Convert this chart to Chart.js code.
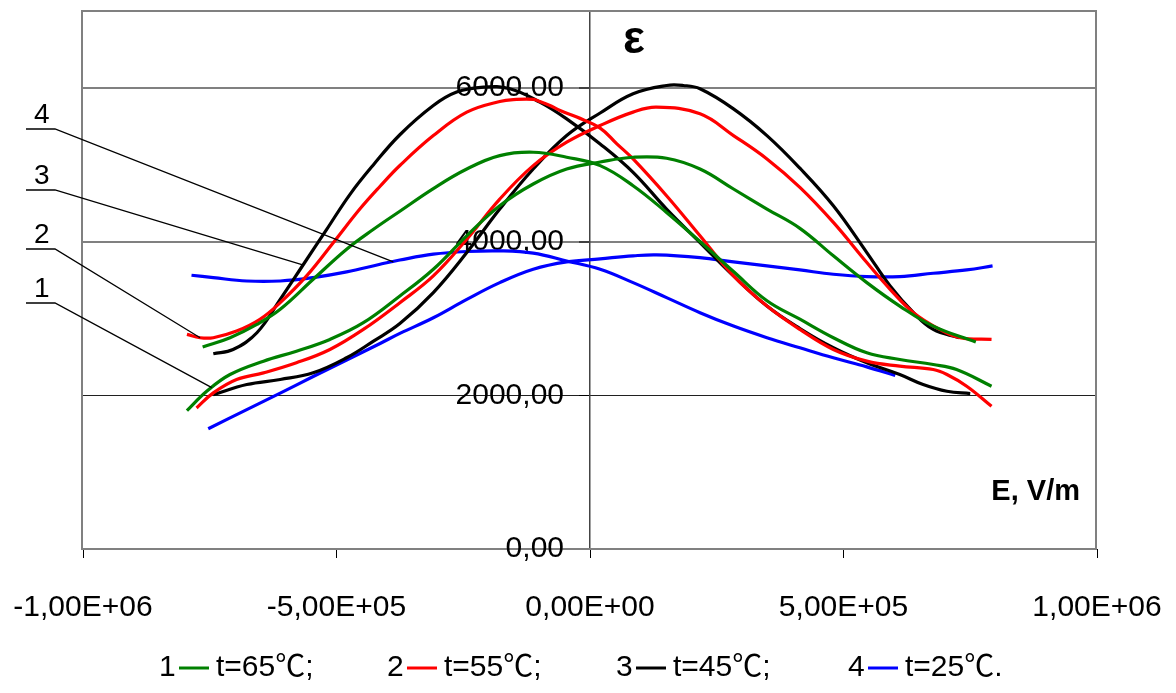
<!DOCTYPE html>
<html><head><meta charset="utf-8">
<script src="https://cdn.jsdelivr.net/npm/chart.js@4.4.0/dist/chart.umd.min.js"></script>
<style>html,body{margin:0;padding:0;background:#fff;}canvas{display:block;}</style>
</head><body>
<canvas id="c" width="1176" height="693"></canvas>
<script>
// ---------- DATA ----------
const xTicks = [-1e6, -5e5, 0, 5e5, 1e6];
const xTickLabels = ['-1,00E+06', '-5,00E+05', '0,00E+00', '5,00E+05', '1,00E+06'];
const yTicks = [0, 2000, 4000, 6000];
const yTickLabels = ['0,00', '2000,00', '4000,00', '6000,00'];

const seriesNums = ['1', '2', '3', '4'];
const seriesLabels = ['t=65\u2103;', 't=55\u2103;', 't=45\u2103;', 't=25\u2103.'];

// t=65 °C (green)
const t65A_E = [-7.64e5,-7.10e5,-6.57e5,-6.11e5,-5.46e5,-4.80e5,-4.27e5,-3.75e5,-3.09e5,-2.43e5,-1.78e5,-1.12e5,-0.46e5,0.20e5,0.85e5,1.51e5,2.17e5,2.83e5,3.49e5,4.14e5,4.80e5,5.46e5,6.11e5,6.77e5,7.23e5,7.92e5];
const t65A_eps = [2627,2749,2922,3118,3509,3901,4160,4395,4690,4944,5118,5162,5097,4988,4727,4379,4000,3610,3230,2990,2749,2553,2466,2400,2335,2118];
const t65B_E = [-7.95e5,-7.56e5,-7.10e5,-6.44e5,-5.79e5,-5.13e5,-4.47e5,-3.75e5,-3.09e5,-2.43e5,-1.78e5,-1.12e5,-0.46e5,0.20e5,0.85e5,1.51e5,2.17e5,2.83e5,3.49e5,4.14e5,4.80e5,5.46e5,6.11e5,6.77e5,7.61e5];
const t65B_eps = [1800,2052,2270,2444,2574,2727,2944,3292,3640,4075,4466,4749,4944,5035,5097,5084,4944,4684,4423,4172,3814,3466,3161,2900,2692];

// t=55 °C (red)
const t55A_E = [-7.95e5,-7.69e5,-7.43e5,-6.97e5,-6.51e5,-6.11e5,-5.59e5,-5.06e5,-4.54e5,-4.14e5,-3.75e5,-3.09e5,-2.43e5,-1.78e5,-1.45e5,-1.12e5,-0.99e5,-0.79e5,-0.59e5,-0.26e5,0.20e5,0.53e5,0.85e5,1.51e5,2.17e5,2.83e5,3.49e5,4.14e5,4.80e5,5.46e5,6.11e5,6.77e5,7.04e5,7.43e5,7.92e5];
const t55A_eps = [2792,2749,2749,2835,2988,3205,3553,3988,4423,4720,4990,5379,5684,5823,5849,5850,5823,5770,5706,5620,5477,5271,5075,4596,4075,3553,3161,2857,2596,2444,2379,2335,2270,2118,1857];
const t55B_E = [-7.76e5,-7.43e5,-6.97e5,-6.44e5,-5.79e5,-5.13e5,-4.47e5,-3.75e5,-3.09e5,-2.43e5,-1.78e5,-1.12e5,-0.46e5,0.20e5,0.85e5,1.31e5,2.17e5,2.83e5,3.49e5,4.14e5,4.80e5,5.46e5,5.92e5,6.38e5,6.90e5,7.30e5,7.92e5];
const t55B_eps = [1835,2031,2205,2292,2423,2596,2857,3205,3553,4031,4553,4988,5293,5510,5684,5749,5662,5379,5075,4705,4249,3727,3379,3075,2857,2749,2727];

// t=45 °C (black)
const t45A_E = [-7.43e5,-7.04e5,-6.57e5,-6.11e5,-5.65e5,-5.19e5,-4.73e5,-4.27e5,-3.75e5,-3.09e5,-2.63e5,-2.10e5,-1.58e5,-0.99e5,-0.46e5,0.20e5,0.85e5,1.51e5,2.17e5,2.83e5,3.49e5,4.14e5,4.80e5,5.46e5,6.11e5,6.57e5,7.04e5,7.50e5];
const t45A_eps = [2540,2596,2814,3248,3705,4162,4618,5000,5390,5770,5945,6010,5988,5815,5597,5271,4901,4423,3988,3553,3161,2868,2618,2423,2270,2140,2052,2022];
const t45B_E = [-7.43e5,-6.77e5,-6.11e5,-5.46e5,-4.80e5,-4.27e5,-3.75e5,-3.09e5,-2.43e5,-1.78e5,-1.12e5,-0.46e5,0.20e5,0.85e5,1.51e5,1.84e5,2.17e5,2.83e5,3.49e5,4.14e5,4.80e5,5.46e5,5.92e5,6.38e5,6.77e5,7.28e5];
const t45B_eps = [2009,2140,2205,2292,2488,2705,2933,3336,3857,4423,4944,5379,5673,5923,6031,6031,5988,5727,5379,4955,4466,3857,3422,3075,2857,2749];

// t=25 °C (blue)
const t25A_E = [-7.86e5,-7.43e5,-6.77e5,-6.11e5,-5.46e5,-4.80e5,-4.14e5,-3.75e5,-3.09e5,-2.43e5,-1.78e5,-1.12e5,-0.46e5,0.20e5,0.85e5,1.51e5,2.17e5,2.83e5,3.49e5,4.14e5,4.80e5,5.46e5,6.02e5];
const t25A_eps = [3562,3531,3487,3487,3531,3605,3705,3760,3836,3871,3879,3849,3748,3640,3466,3271,3075,2900,2749,2618,2488,2370,2257];
const t25B_E = [-7.53e5,-6.77e5,-6.11e5,-5.46e5,-4.80e5,-4.14e5,-3.75e5,-3.09e5,-2.43e5,-1.78e5,-1.12e5,-0.46e5,0.20e5,0.85e5,1.31e5,2.17e5,2.83e5,3.49e5,4.14e5,4.80e5,5.46e5,6.11e5,6.77e5,7.43e5,7.94e5];
const t25B_eps = [1565,1813,2028,2244,2459,2674,2805,3009,3248,3466,3640,3735,3775,3814,3827,3792,3735,3683,3631,3575,3544,3544,3588,3631,3683];

// leader-line callouts: label, and the curve point (E, eps) each one points to
const leaderNums = ['4', '3', '2', '1'];
const leaderE = [-3.88e5, -5.65e5, -7.69e5, -7.46e5];
const leaderEps = [3735, 3692, 2749, 2100];

// ---------- STYLE ----------
const FONT = "'Liberation Sans', Arial, 'Noto Sans CJK SC', sans-serif";
const COLORS = ['#008000', '#ff0000', '#000000', '#0000ff'];

function pts(E, v) { return E.map((e, i) => ({x: e, y: v[i]})); }
function ds(E, v, ci) {
  return {data: pts(E, v), borderColor: COLORS[ci], borderWidth: 3.2, pointRadius: 0,
          fill: false, tension: 0.4, borderCapStyle: 'butt', borderJoinStyle: 'round'};
}

const datasets = [
  ds(t65A_E, t65A_eps, 0), ds(t65B_E, t65B_eps, 0),
  ds(t55A_E, t55A_eps, 1), ds(t55B_E, t55B_eps, 1),
  ds(t45A_E, t45A_eps, 2), ds(t45B_E, t45B_eps, 2),
  ds(t25A_E, t25A_eps, 3), ds(t25B_E, t25B_eps, 3)
];

const boxPlugin = {
  id: 'box',
  beforeDatasetsDraw(chart) {
    const {ctx, chartArea: a} = chart;
    const xs = chart.scales.x, ys = chart.scales.y;
    ctx.save();
    ctx.strokeStyle = '#808080';
    ctx.lineWidth = 2;
    ctx.strokeRect(a.left - 1, a.top, a.right - a.left, a.bottom - a.top);
    // y tick labels, right-aligned left of the central axis
    const ax = xs.getPixelForValue(0);
    ctx.fillStyle = '#000';
    ctx.font = '30px ' + FONT;
    ctx.textAlign = 'right'; ctx.textBaseline = 'middle';
    yTicks.forEach((v, i) => ctx.fillText(yTickLabels[i], ax - 26, ys.getPixelForValue(v)));
    ctx.restore();
  }
};

const textPlugin = {
  id: 'texts',
  afterDraw(chart) {
    const {ctx} = chart;
    const xs = chart.scales.x, ys = chart.scales.y;
    ctx.save();
    ctx.fillStyle = '#000';
    ctx.font = 'bold 46px ' + FONT;
    ctx.textAlign = 'center'; ctx.textBaseline = 'middle';
    ctx.fillText('\u03b5', 634, 40);
    ctx.font = 'bold 29px ' + FONT;
    ctx.textAlign = 'right';
    ctx.fillText('E, V/m', 1080, 492);

    // callouts
    const rowY = [129, 190, 249, 303];
    ctx.font = '28px ' + FONT;
    ctx.textAlign = 'left'; ctx.textBaseline = 'alphabetic';
    ctx.strokeStyle = '#000'; ctx.lineWidth = 1.3;
    leaderNums.forEach((n, i) => {
      const y = rowY[i];
      ctx.fillText(n, 34, y - 6);
      ctx.beginPath();
      ctx.moveTo(26, y); ctx.lineTo(55, y);
      ctx.lineTo(xs.getPixelForValue(leaderE[i]), ys.getPixelForValue(leaderEps[i]));
      ctx.stroke();
    });

    // legend
    const legX = [159, 387, 616, 848];
    const ly = 668;
    ctx.font = '30px ' + FONT;
    ctx.textBaseline = 'middle';
    seriesNums.forEach((n, i) => {
      const x0 = legX[i];
      ctx.fillStyle = '#000';
      ctx.fillText(n, x0, ly);
      ctx.strokeStyle = COLORS[i]; ctx.lineWidth = 3;
      ctx.beginPath(); ctx.moveTo(x0 + 20, ly); ctx.lineTo(x0 + 50, ly); ctx.stroke();
      ctx.fillText(seriesLabels[i], x0 + 57, ly);
    });
    ctx.restore();
  }
};

const zeroPad = s => { s.paddingTop = 0; s.paddingBottom = 0; s.paddingLeft = 0; s.paddingRight = 0; };

new Chart(document.getElementById('c'), {
  type: 'line',
  data: {datasets},
  options: {
    responsive: false, animation: false, devicePixelRatio: 1,
    layout: {padding: {left: 83, right: 79, top: 11, bottom: 144}},
    plugins: {legend: {display: false}, tooltip: {enabled: false}},
    scales: {
      x: {
        type: 'linear', min: -1e6, max: 1e6, position: {y: 0},
        afterBuildTicks: s => { s.ticks = xTicks.map(v => ({value: v})); },
        afterFit: zeroPad,
        ticks: {callback: v => xTickLabels[xTicks.indexOf(v)], color: '#000',
                font: {family: FONT, size: 30}, padding: 32, maxRotation: 0, autoSkip: false},
        grid: {drawOnChartArea: false, drawTicks: true, tickLength: 9, tickColor: '#000', tickWidth: 1},
        border: {display: false}
      },
      y: {
        type: 'linear', min: 0, max: 7000, position: {x: 0},
        afterBuildTicks: s => { s.ticks = yTicks.map(v => ({value: v})); },
        afterFit: zeroPad,
        ticks: {display: false},
        grid: {
          color: c => (c.tick && c.tick.value === 2000) ? '#202020' : '#808080',
          lineWidth: c => (c.tick && c.tick.value === 2000) ? 1 : 2,
          drawTicks: true, tickLength: 10, tickColor: '#000', tickWidth: 1
        },
        border: {display: true, color: '#444', width: 1.5}
      }
    }
  },
  plugins: [boxPlugin, textPlugin]
});
</script>
</body></html>
